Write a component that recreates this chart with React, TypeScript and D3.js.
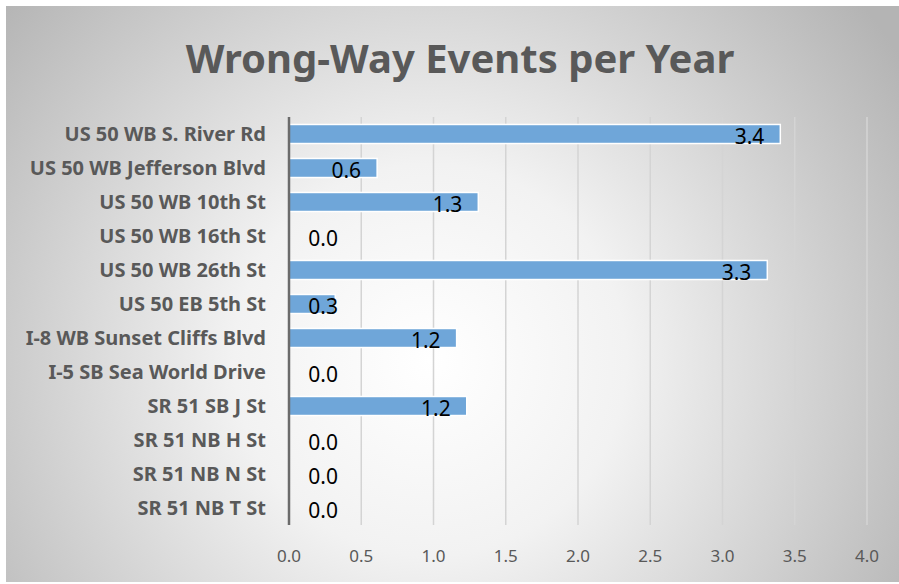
import { useEffect, useRef } from 'react';
import * as d3 from 'd3';

const categories = [
  'US 50 WB S. River Rd',
  'US 50 WB Jefferson Blvd',
  'US 50 WB 10th St',
  'US 50 WB 16th St',
  'US 50 WB 26th St',
  'US 50 EB 5th St',
  'I-8 WB Sunset Cliffs Blvd',
  'I-5 SB Sea World Drive',
  'SR 51 SB J St',
  'SR 51 NB H St',
  'SR 51 NB N St',
  'SR 51 NB T St',
];
const values = [3.4, 0.61, 1.31, 0, 3.31, 0.32, 1.16, 0, 1.23, 0, 0, 0];
const xTicks = [0, 0.5, 1, 1.5, 2, 2.5, 3, 3.5, 4];
const title = 'Wrong-Way Events per Year';

export default function App() {
  const svgRef = useRef<SVGSVGElement>(null);

  useEffect(() => {
    if (!svgRef.current) return;
    const width = 899;
    const height = 584;
    const margin = { top: 117, right: 32, bottom: 59, left: 289 };

    d3.select(svgRef.current).selectAll('*').remove();
    const svg = d3.select(svgRef.current).attr('width', width).attr('height', height);

    // background gradient
    const defs = svg.append('defs');
    const grad = defs.append('radialGradient')
      .attr('id', 'bg')
      .attr('gradientUnits', 'userSpaceOnUse')
      .attr('cx', 430).attr('cy', 360).attr('r', 560);
    grad.append('stop').attr('offset', '0%').attr('stop-color', '#ffffff');
    grad.append('stop').attr('offset', '35%').attr('stop-color', '#f2f2f2');
    grad.append('stop').attr('offset', '100%').attr('stop-color', '#b4b4b4');

    svg.append('rect').attr('width', width).attr('height', height).attr('fill', '#ffffff');
    svg.append('rect')
      .attr('x', 6).attr('y', 6)
      .attr('width', width - 6).attr('height', height - 8)
      .attr('fill', 'url(#bg)');

    const x = d3.scaleLinear()
      .domain([0, 4])
      .range([margin.left, width - margin.right]);

    const y = d3.scaleBand()
      .domain(categories)
      .range([margin.top, height - margin.bottom])
      .paddingInner(0.44)
      .paddingOuter(0.22);

    // gridlines
    svg.append('g')
      .selectAll('line')
      .data(xTicks.slice(1))
      .join('line')
      .attr('x1', d => x(d)).attr('x2', d => x(d))
      .attr('y1', margin.top).attr('y2', height - margin.bottom)
      .attr('stroke', '#d4d4d4')
      .attr('stroke-width', 1.5);

    // bars
    svg.append('g')
      .selectAll('rect')
      .data(values)
      .join('rect')
      .attr('x', x(0))
      .attr('y', (d, i) => y(categories[i])!)
      .attr('width', d => Math.max(0, x(d) - x(0)))
      .attr('height', y.bandwidth())
      .attr('fill', d => (d > 0 ? '#6fa6d9' : 'none'))
      .attr('stroke', d => (d > 0 ? '#ffffff' : 'none'))
      .attr('stroke-width', 1.5);

    // axis line
    svg.append('line')
      .attr('x1', x(0)).attr('x2', x(0))
      .attr('y1', margin.top).attr('y2', height - margin.bottom)
      .attr('stroke', '#6b6b6b')
      .attr('stroke-width', 2.5);

    // value labels
    const fmt = d3.format('.1f');
    const minEnd = x(0) + 49;
    svg.append('g')
      .selectAll('text')
      .data(values)
      .join('text')
      .attr('x', d => Math.max(x(d) - 16, minEnd))
      .attr('y', (d, i) => y(categories[i])! + y.bandwidth() / 2 + 10)
      .attr('text-anchor', 'end')
      .attr('font-family', 'Noto Sans, sans-serif')
      .attr('font-size', 21)
      .attr('fill', '#000000')
      .text(d => fmt(d));

    // category labels
    svg.append('g')
      .selectAll('text')
      .data(categories)
      .join('text')
      .attr('x', 266)
      .attr('y', d => y(d)! + y.bandwidth() / 2 + 6.5)
      .attr('text-anchor', 'end')
      .attr('font-family', 'Noto Sans, sans-serif')
      .attr('font-weight', 'bold')
      .attr('font-size', 20)
      .attr('fill', '#595959')
      .text(d => d);

    // x tick labels
    svg.append('g')
      .selectAll('text')
      .data(xTicks)
      .join('text')
      .attr('x', d => x(d))
      .attr('y', 562)
      .attr('text-anchor', 'middle')
      .attr('font-family', 'Noto Sans, sans-serif')
      .attr('font-size', 17)
      .attr('fill', '#595959')
      .text(d => fmt(d));

    // title
    svg.append('text')
      .attr('x', 460)
      .attr('y', 73)
      .attr('text-anchor', 'middle')
      .attr('font-family', 'Noto Sans, sans-serif')
      .attr('font-weight', 'bold')
      .attr('font-size', 40)
      .attr('fill', '#595959')
      .text(title);
  }, []);

  return <svg ref={svgRef} style={{ position: 'absolute', left: 0, top: 0 }}></svg>;
}
